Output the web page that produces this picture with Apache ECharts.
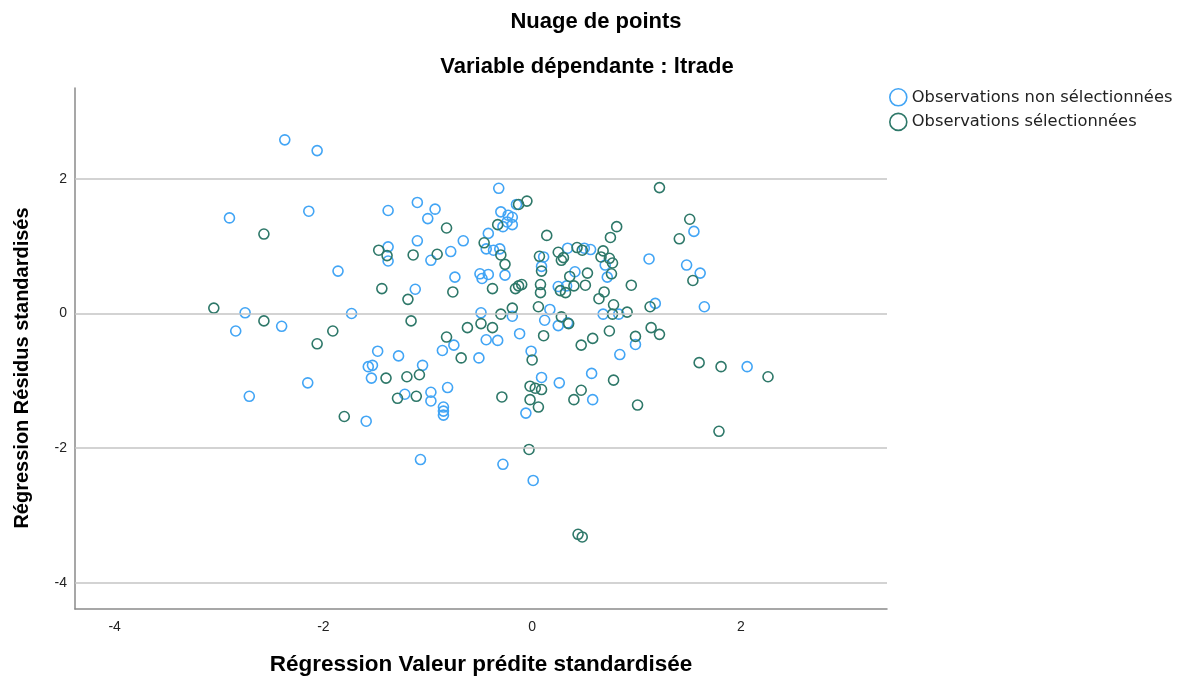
<!DOCTYPE html>
<html>
<head>
<meta charset="utf-8">
<script src="https://cdn.jsdelivr.net/npm/echarts@6/dist/echarts.min.js"></script>
<style>
  html, body { margin: 0; padding: 0; background: #fff; }
  #chart { width: 1181px; height: 681px; }
</style>
</head>
<body>
<div id="chart"></div>
<script>
// Nuage de points : résidus standardisés vs valeurs prédites standardisées

const seriesNames = ['Observations non sélectionnées', 'Observations sélectionnées'];
const xTicks = [-4, -2, 0, 2];
const yTicks = [-4, -2, 0, 2];

// observations non sélectionnées [valeur prédite, résidu]
const nonSelected = [
    [-2.37, 2.58], [-2.06, 2.42], [-2.90, 1.42], [-2.14, 1.52], [-1.38, 1.53], [-1.10, 1.65],
    [-0.93, 1.55], [-1.00, 1.41], [-1.10, 1.08], [-0.66, 1.08], [-0.78, 0.92], [-1.38, 0.99],
    [-1.38, 0.78], [-0.97, 0.79], [-0.32, 1.86], [-0.15, 1.62], [-0.30, 1.51], [-0.23, 1.46],
    [-0.19, 1.43], [-0.24, 1.36], [-0.19, 1.32], [-0.28, 1.29], [-0.42, 1.19], [-0.44, 0.96],
    [-0.37, 0.94], [-0.31, 0.96], [0.11, 0.84], [0.34, 0.97], [0.50, 0.97], [0.56, 0.95],
    [1.55, 1.22], [1.12, 0.81], [1.48, 0.72], [-1.86, 0.63], [-2.75, 0.01], [-2.84, -0.26],
    [-2.40, -0.19], [-1.73, 0.00], [-1.48, -0.56], [-1.57, -0.79], [-1.53, -0.77], [-1.54, -0.96],
    [-2.15, -1.03], [-2.71, -1.23], [-1.59, -1.60], [0.09, 0.70], [-0.74, 0.54], [-0.50, 0.59],
    [-0.42, 0.58], [-0.48, 0.52], [-0.26, 0.57], [0.41, 0.62], [-1.12, 0.36], [0.25, 0.40],
    [0.33, 0.41], [-0.19, -0.04], [-0.49, 0.01], [0.17, 0.06], [0.12, -0.10], [0.25, -0.18],
    [0.34, -0.14], [-0.12, -0.30], [-0.75, -0.47], [-0.86, -0.55], [-0.44, -0.39], [-0.33, -0.40],
    [-0.01, -0.56], [-0.51, -0.66], [-1.28, -0.63], [-1.05, -0.77], [0.09, -0.95], [0.26, -1.03],
    [-0.81, -1.10], [-1.22, -1.20], [-0.97, -1.17], [-0.97, -1.30], [-0.85, -1.39], [-0.85, -1.45],
    [-0.85, -1.51], [-0.06, -1.48], [-1.07, -2.17], [-0.28, -2.24], [0.01, -2.48], [0.70, 0.72],
    [0.72, 0.54], [0.68, -0.01], [0.83, -0.01], [1.18, 0.15], [1.61, 0.60], [1.65, 0.10],
    [0.99, -0.46], [0.84, -0.61], [0.57, -0.89], [0.58, -1.28], [2.06, -0.79]
];

// observations sélectionnées [valeur prédite, résidu]
const selected = [
    [-2.57, 1.18], [-1.47, 0.94], [-1.39, 0.86], [-0.82, 1.27], [-0.91, 0.88], [-1.14, 0.87],
    [-0.13, 1.62], [-0.05, 1.67], [-0.33, 1.32], [0.14, 1.16], [-0.46, 1.05], [-0.30, 0.87],
    [-0.26, 0.73], [0.07, 0.85], [0.25, 0.91], [0.30, 0.83], [0.43, 0.98], [0.48, 0.94],
    [1.22, 1.87], [1.51, 1.40], [1.41, 1.11], [0.81, 1.29], [0.75, 1.13], [0.68, 0.93],
    [0.66, 0.84], [0.74, 0.82], [0.77, 0.75], [-1.44, 0.37], [-3.05, 0.08], [-2.57, -0.11],
    [-1.91, -0.26], [-2.06, -0.45], [-1.40, -0.96], [-1.80, -1.53], [0.09, 0.63], [0.28, 0.79],
    [0.36, 0.55], [0.53, 0.60], [-1.19, 0.21], [-0.76, 0.32], [-0.38, 0.37], [-0.16, 0.37],
    [-0.13, 0.41], [-0.10, 0.43], [0.08, 0.43], [0.08, 0.31], [0.27, 0.34], [0.32, 0.31],
    [0.40, 0.41], [0.06, 0.10], [-0.19, 0.08], [-0.30, -0.01], [-1.16, -0.11], [-0.49, -0.15],
    [-0.38, -0.21], [-0.62, -0.21], [0.28, -0.05], [0.35, -0.15], [0.11, -0.33], [-0.82, -0.35],
    [0.47, -0.47], [0.00, -0.69], [-0.68, -0.66], [-1.08, -0.91], [-1.20, -0.94], [-0.02, -1.08],
    [0.03, -1.11], [0.09, -1.13], [0.47, -1.14], [-0.29, -1.24], [-1.11, -1.23], [-1.29, -1.26],
    [-0.02, -1.28], [0.06, -1.39], [0.40, -1.28], [-0.03, -2.02], [0.44, -3.28], [0.48, -3.32],
    [0.51, 0.42], [0.76, 0.59], [0.95, 0.42], [0.64, 0.22], [0.69, 0.32], [0.78, 0.13],
    [0.77, -0.01], [0.91, 0.02], [1.13, 0.10], [1.54, 0.49], [0.74, -0.26], [0.58, -0.37],
    [0.99, -0.34], [1.14, -0.21], [1.22, -0.31], [0.78, -0.99], [1.60, -0.73], [1.81, -0.79],
    [2.26, -0.94], [1.01, -1.36], [1.79, -1.75]
];

const blue = '#42a5f5';
const green = '#2e7869';
const font = '"Liberation Sans", Arial, sans-serif';

let chart = echarts.init(document.getElementById('chart'));

let option = {
    backgroundColor: '#fff',
    animation: false,
    title: [
        {
            text: 'Nuage de points',
            left: 591, top: 6, textAlign: 'center',
            textStyle: { fontFamily: font, fontSize: 22, fontWeight: 'bold', color: '#000' }
        },
        {
            text: 'Variable dépendante : ltrade',
            left: 582, top: 51, textAlign: 'center',
            textStyle: { fontFamily: font, fontSize: 22, fontWeight: 'bold', color: '#000' }
        }
    ],
    legend: {
        orient: 'vertical',
        left: 889, top: 88,
        itemWidth: 17, itemHeight: 17, itemGap: 6,
        icon: 'circle',
        padding: 0,
        textStyle: { fontFamily: '"DejaVu Sans", sans-serif', fontSize: 16.3, color: '#222', padding: [0, 0, 0, 0] },
        data: [
            { name: seriesNames[0], itemStyle: { color: '#fff', borderColor: blue, borderWidth: 1.6 } },
            { name: seriesNames[1], itemStyle: { color: '#fff', borderColor: green, borderWidth: 1.6 } }
        ]
    },
    grid: { left: 75, right: 294, top: 88, bottom: 72 },
    xAxis: {
        type: 'value',
        min: -4.38, max: 3.40,
        name: 'Régression Valeur prédite standardisée',
        nameLocation: 'middle',
        nameGap: 44,
        nameTextStyle: { fontFamily: font, fontSize: 22.5, fontWeight: 'bold', color: '#000' },
        axisLine: { show: true, onZero: false, lineStyle: { color: '#8a8a8a', width: 1.5 } },
        axisTick: { show: false },
        splitLine: { show: false },
        axisLabel: { customValues: xTicks, margin: 11, fontFamily: font, fontSize: 14, color: '#222' }
    },
    yAxis: {
        type: 'value',
        min: -4.39, max: 3.35,
        axisLine: { show: true, onZero: false, lineStyle: { color: '#8a8a8a', width: 1.5 } },
        axisTick: { show: false },
        splitLine: { show: false },
        axisLabel: { customValues: yTicks, margin: 8, fontFamily: font, fontSize: 14, color: '#222' }
    },
    graphic: [
        {
            type: 'text',
            x: 22, y: 368,
            rotation: Math.PI / 2,
            style: {
                text: 'Régression Résidus standardisés',
                font: 'bold 20px ' + font,
                fill: '#000',
                align: 'center',
                verticalAlign: 'middle'
            }
        }
    ],
    series: [
        {
            name: 'grille',
            type: 'scatter',
            data: [],
            z: 1,
            silent: true,
            markLine: {
                silent: true,
                symbol: 'none',
                label: { show: false },
                lineStyle: { color: '#c4c4c4', width: 1.5, type: 'solid' },
                data: yTicks.map(v => ({ yAxis: v }))
            }
        },
        {
            name: seriesNames[0],
            type: 'scatter',
            z: 3,
            symbol: 'circle',
            symbolSize: 10,
            itemStyle: { color: 'rgba(0,0,0,0)', borderColor: blue, borderWidth: 1.6, opacity: 1 },
            data: nonSelected
        },
        {
            name: seriesNames[1],
            type: 'scatter',
            z: 4,
            symbol: 'circle',
            symbolSize: 10,
            itemStyle: { color: 'rgba(0,0,0,0)', borderColor: green, borderWidth: 1.6, opacity: 1 },
            data: selected
        }
    ]
};

chart.setOption(option);
</script>
</body>
</html>
